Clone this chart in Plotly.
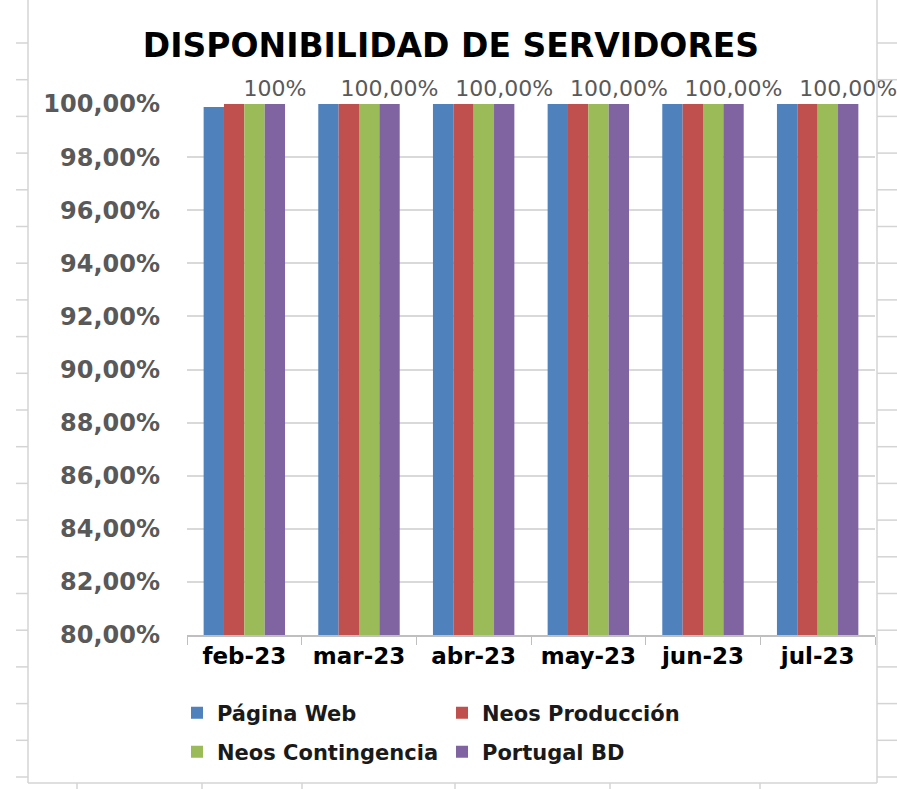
import plotly.graph_objects as go

categories = ["feb-23", "mar-23", "abr-23", "may-23", "jun-23", "jul-23"]
series_names = ["Página Web", "Neos Producción", "Neos Contingencia", "Portugal BD"]
pagina_web = [99.89, 100, 100, 100, 100, 100]
neos_produccion = [100, 100, 100, 100, 100, 100]
neos_contingencia = [100, 100, 100, 100, 100, 100]
portugal_bd = [100, 100, 100, 100, 100, 100]
portugal_labels = ["100%", "100,00%", "100,00%", "100,00%", "100,00%", "100,00%"]
y_ticks = [80, 82, 84, 86, 88, 90, 92, 94, 96, 98, 100]
y_tick_labels = ["80,00%", "82,00%", "84,00%", "86,00%", "88,00%", "90,00%",
                 "92,00%", "94,00%", "96,00%", "98,00%", "100,00%"]

colors = ["#4F81BD", "#C0504D", "#9BBB59", "#8064A2"]
values = [pagina_web, neos_produccion, neos_contingencia, portugal_bd]
legends = ["legend", "legend", "legend2", "legend2"]

W, H = 897, 789
L, R, T, B = 187, 22, 104, 154

fig = go.Figure()
for i, (name, vals) in enumerate(zip(series_names, values)):
    kw = {}
    if i == 3:
        kw = dict(text=portugal_labels, textposition="outside",
                  textfont=dict(family="DejaVu Sans", size=22, color="#595959"),
                  constraintext="none", cliponaxis=False)
    fig.add_trace(go.Bar(x=categories, y=vals, name=name,
                         marker=dict(color=colors[i], line=dict(width=0)),
                         legend=legends[i], **kw))

def px_x(p):
    return (p - L) / (W - L - R)

def px_y(p):
    return 1 - (p - T) / (H - T - B)

shapes = []
line_col = "#d4d4d4"
# spreadsheet cell borders
for xp in (28, 877):
    shapes.append(dict(type="line", xref="paper", yref="paper",
                       x0=px_x(xp), x1=px_x(xp), y0=px_y(0), y1=px_y(783),
                       line=dict(color=line_col, width=1.5)))
shapes.append(dict(type="line", xref="paper", yref="paper",
                   x0=px_x(28), x1=px_x(877), y0=px_y(783), y1=px_y(783),
                   line=dict(color=line_col, width=1.5)))
for k in range(21):
    yp = 43 + k * 36.7
    if yp > 783:
        break
    shapes.append(dict(type="line", xref="paper", yref="paper",
                       x0=px_x(16), x1=px_x(28), y0=px_y(yp), y1=px_y(yp),
                       line=dict(color=line_col, width=1.5)))
    shapes.append(dict(type="line", xref="paper", yref="paper",
                       x0=px_x(877), x1=px_x(897), y0=px_y(yp), y1=px_y(yp),
                       line=dict(color=line_col, width=1.5)))
for xp in (77, 202, 302, 455, 610, 760):
    shapes.append(dict(type="line", xref="paper", yref="paper",
                       x0=px_x(xp), x1=px_x(xp), y0=px_y(783), y1=px_y(789),
                       line=dict(color=line_col, width=1.5)))

legend_font = dict(family="DejaVu Sans", size=21, color="#1a1a1a", weight="bold")
fig.update_layout(
    width=W, height=H,
    margin=dict(l=L, r=R, t=T, b=B),
    paper_bgcolor="white", plot_bgcolor="white",
    barmode="group", bargap=0.29, bargroupgap=0,
    title=dict(text="<b>DISPONIBILIDAD DE SERVIDORES</b>",
               font=dict(family="DejaVu Sans", size=33, color="black"),
               x=451 / W, xanchor="center",
               y=1 - 45 / H, yanchor="middle", xref="container", yref="container"),
    xaxis=dict(showgrid=False, showline=True, linecolor="#bfbfbf", linewidth=1.5,
               ticks="outside", tickson="boundaries", ticklen=8, tickcolor="#bfbfbf",
               tickfont=dict(family="DejaVu Sans", size=23, color="black", weight="bold")),
    yaxis=dict(range=[80, 100], tickvals=y_ticks, ticktext=y_tick_labels,
               showgrid=True, gridcolor="#d9d9d9", gridwidth=1.5, showline=False,
               zeroline=False, ticklabelstandoff=26,
               tickfont=dict(family="DejaVu Sans", size=24, color="#595959", weight="bold")),
    legend=dict(orientation="h", x=px_x(177), y=px_y(713), xanchor="left", yanchor="middle",
                entrywidth=220, font=legend_font, itemclick=False,
                bgcolor="rgba(0,0,0,0)"),
    legend2=dict(orientation="h", x=px_x(177), y=px_y(752), xanchor="left", yanchor="middle",
                 entrywidth=220, font=legend_font, itemclick=False,
                 bgcolor="rgba(0,0,0,0)"),
    shapes=shapes,
    showlegend=True,
)

fig.write_html("out.html", config={"displayModeBar": False},
               post_script="document.body.style.margin='0';")
